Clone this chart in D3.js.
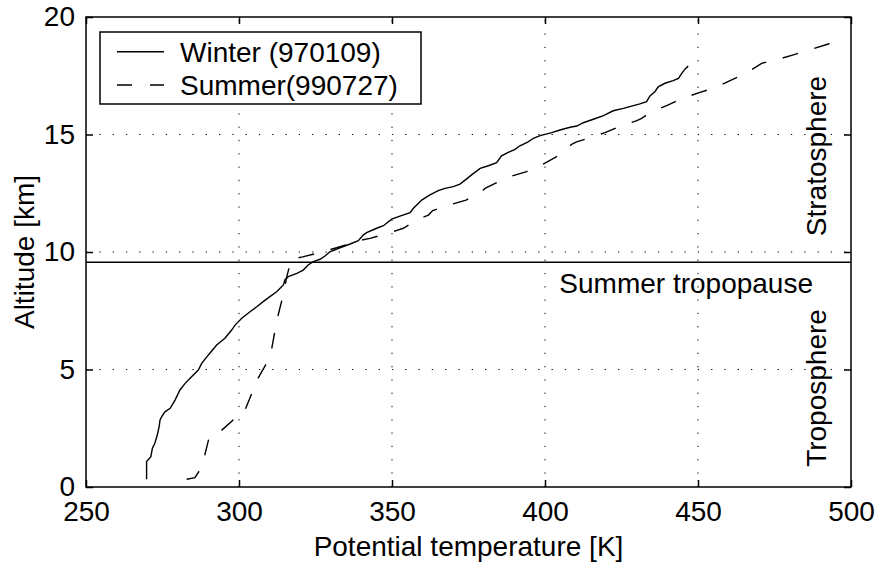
<!DOCTYPE html>
<html><head><meta charset="utf-8">
<script src="https://cdn.jsdelivr.net/npm/d3@7"></script>
<style>
body{margin:0;background:#fff;}
text{font-family:"Liberation Sans",Arial,Helvetica,sans-serif;fill:#000;}
</style></head>
<body><svg id="c" width="875" height="563"></svg>
<script>
const xTicks=[250,300,350,400,450,500];
const yTicks=[0,5,10,15,20];
const xGrid=[300,350,400,450];
const yGrid=[5,10,15];
const tropopauseAlt=9.56;
const seriesNames=["Winter (970109)","Summer(990727)"];
const winterTheta=[269.8,269.8,271.2,271.7,272.5,273.3,273.9,274.2,274.7,275.8,277.5,279.1,280.7,282.4,284.5,286.7,287.8,290.0,292.7,295.4,297.6,298.7,300.9,303.6,305.8,307.9,310.1,312.3,314.5,315.0,316.1,318.9,321.0,322.6,324.3,326.5,328.1,329.7,333.0,336.3,339.0,340.6,341.7,345.0,347.2,349.9,352.6,355.9,357.0,359.7,362.4,365.1,367.3,370.0,372.2,374.4,376.0,378.8,381.5,384.2,385.8,388.0,390.2,391.8,394.5,396.2,398.4,402.2,404.9,408.2,410.4,412.5,415.8,419.1,422.3,425.6,428.9,431.0,433.2,434.3,435.9,437.0,439.2,441.9,443.6,444.7,445.8,446.8];
const winterAlt=[0.33,1.08,1.29,1.65,1.86,2.21,2.57,2.85,2.99,3.2,3.35,3.7,4.13,4.41,4.69,4.98,5.26,5.62,6.04,6.33,6.68,6.89,7.18,7.46,7.67,7.89,8.1,8.31,8.6,8.81,8.95,9.09,9.23,9.45,9.59,9.69,9.83,10.01,10.18,10.34,10.48,10.72,10.82,11.01,11.12,11.4,11.53,11.67,11.86,12.21,12.43,12.61,12.71,12.78,12.89,13.11,13.28,13.56,13.67,13.8,14.09,14.24,14.37,14.52,14.69,14.84,14.95,15.08,15.19,15.31,15.36,15.5,15.65,15.8,16.01,16.11,16.23,16.3,16.4,16.64,16.82,17.03,17.18,17.29,17.39,17.6,17.79,17.91];
const summerTheta=[282.9,285.6,287.0,288.9,290.3,291.0,293.6,297.9,299.8,302.0,304.2,305.2,306.0,309.0,309.8,310.7,311.8,312.8,314.3,315.0,315.5,316.5,316.7,317.0,320.8,326.7,331.9,339.0,342.8,348.8,353.7,358.6,361.9,363.3,368.7,374.2,379.3,380.4,383.7,389.1,394.0,399.4,404.3,408.7,410.3,413.6,419.6,424.3,430.0,431.6,434.3,440.3,445.0,450.4,455.9,461.0,465.9,470.8,476.2,481.7,487.1,492.6,497.5];
const summerAlt=[0.33,0.4,0.68,1.4,2.14,2.21,2.33,2.83,3.16,3.28,3.99,4.27,4.58,5.26,5.62,5.9,6.68,7.32,8.1,8.5,8.89,9.4,9.54,9.69,9.79,9.99,10.18,10.48,10.58,10.8,11.01,11.4,11.57,11.76,12.0,12.21,12.57,12.71,12.92,13.23,13.42,13.74,14.09,14.58,14.69,14.82,15.08,15.33,15.59,15.69,15.93,16.26,16.54,16.78,17.01,17.32,17.63,18.03,18.2,18.41,18.63,18.85,19.19];

const FS=28;
const svg=d3.select("#c");
const L=86,R=851,T=17,B=487;
const x=d3.scaleLinear().domain([250,500]).range([L,R]);
const y=d3.scaleLinear().domain([0,20]).range([B,T]);

// grid
const g=svg.append("g");
g.selectAll(".gx").data(xGrid).enter().append("line")
 .attr("x1",d=>x(d)).attr("x2",d=>x(d)).attr("y1",B).attr("y2",T)
 .attr("stroke","#000").attr("stroke-width",1).attr("stroke-dasharray","1.3,12");
g.selectAll(".gy").data(yGrid).enter().append("line")
 .attr("x1",L).attr("x2",R).attr("y1",d=>y(d)).attr("y2",d=>y(d))
 .attr("stroke","#000").attr("stroke-width",1).attr("stroke-dasharray","1.3,12");

// tropopause
svg.append("line").attr("x1",L).attr("x2",R).attr("y1",y(tropopauseAlt)).attr("y2",y(tropopauseAlt))
 .attr("stroke","#000").attr("stroke-width",1.5);

const line=d3.line().x(d=>x(d[0])).y(d=>y(d[1]));
const wData=winterTheta.map((t,i)=>[t,winterAlt[i]]);
const sData=summerTheta.map((t,i)=>[t,summerAlt[i]]);
svg.append("path").attr("d",line(wData)).attr("fill","none").attr("stroke","#000").attr("stroke-width",1.4);
svg.append("path").attr("d",line(sData)).attr("fill","none").attr("stroke","#000").attr("stroke-width",1.4).attr("stroke-dasharray","16,17");

// axes
function styleAxis(sel){
  sel.select(".domain").remove();
  sel.selectAll(".tick line").attr("stroke","#000").attr("stroke-width",1.5);
  sel.selectAll("text").attr("font-size",FS).attr("font-family","Liberation Sans, Arial, sans-serif");
}
svg.append("g").attr("transform",`translate(0,${B})`)
 .call(d3.axisBottom(x).tickValues(xTicks).tickSize(-7).tickPadding(14).tickFormat(d3.format("d"))).call(styleAxis);
svg.append("g").attr("transform",`translate(${L},0)`)
 .call(d3.axisLeft(y).tickValues(yTicks).tickSize(-7).tickPadding(11).tickFormat(d3.format("d"))).call(styleAxis);
svg.append("g").attr("transform",`translate(0,${T})`)
 .call(d3.axisTop(x).tickValues(xTicks).tickSize(-7).tickFormat("")).call(styleAxis);
svg.append("g").attr("transform",`translate(${R},0)`)
 .call(d3.axisRight(y).tickValues(yTicks).tickSize(-7).tickFormat("")).call(styleAxis);
svg.append("rect").attr("x",L).attr("y",T).attr("width",R-L).attr("height",B-T)
 .attr("fill","none").attr("stroke","#000").attr("stroke-width",1.5);

// labels
svg.append("text").attr("x",(L+R)/2).attr("y",556).attr("text-anchor","middle").attr("font-size",FS).text("Potential temperature [K]");
svg.append("text").attr("transform",`translate(34,${(T+B)/2}) rotate(-90)`).attr("text-anchor","middle").attr("font-size",FS).text("Altitude [km]");
svg.append("text").attr("x",813).attr("y",293).attr("text-anchor","end").attr("font-size",FS).text("Summer tropopause");
svg.append("text").attr("transform",`translate(826,156) rotate(-90)`).attr("text-anchor","middle").attr("font-size",FS).text("Stratosphere");
svg.append("text").attr("transform",`translate(826,388) rotate(-90)`).attr("text-anchor","middle").attr("font-size",FS).text("Troposphere");

// legend
const lg=svg.append("g");
lg.append("rect").attr("x",100).attr("y",32).attr("width",321).attr("height",72).attr("fill","#fff").attr("stroke","#000").attr("stroke-width",1.5);
const items=[{name:seriesNames[0],dash:null},{name:seriesNames[1],dash:"15,18"}];
items.forEach((it,i)=>{
  const yy=51.7+i*33.3;
  const l=lg.append("line").attr("x1",117).attr("x2",164).attr("y1",yy).attr("y2",yy).attr("stroke","#000").attr("stroke-width",1.4);
  if(it.dash) l.attr("stroke-dasharray",it.dash);
  lg.append("text").attr("x",180).attr("y",yy+10).attr("font-size",FS).text(it.name);
});
</script></body></html>
